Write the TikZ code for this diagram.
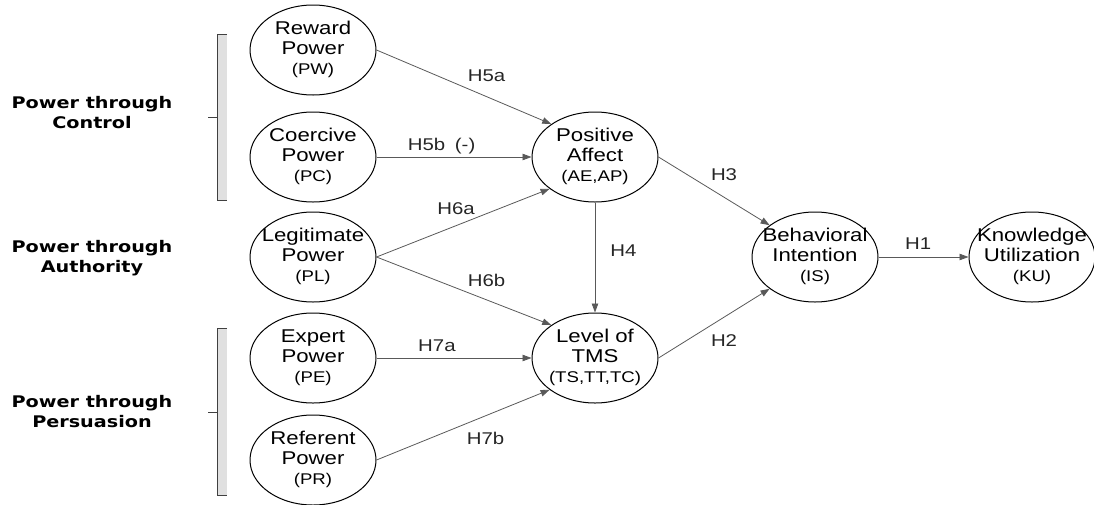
\documentclass[tikz,border=0pt]{standalone}
\usepackage{fontspec}
\setmainfont{Liberation Sans}[FakeStretch=1.2]
\newfontfamily\grpfont{DejaVu Sans}[FakeStretch=1.2]
\usetikzlibrary{shapes.geometric,arrows.meta}

% three lines of an ellipse: name, name, abbreviation
\newcommand\ctext[3]{\makebox[0pt]{\begin{tabular}{@{}c@{}}#1\\#2\\{\fontsize{15.5}{20}\selectfont(#3)}\end{tabular}}}

\begin{document}
\begin{tikzpicture}[x=1pt,y=-1pt,
  construct/.style={ellipse,draw,line width=1pt,minimum width=126pt,minimum height=90pt,inner sep=0pt,font=\fontsize{18.5}{20}\selectfont},
  group/.style={align=center,font=\grpfont\bfseries\fontsize{16}{20}\selectfont},
  hyp/.style={black!65,line width=0.8pt,-{Triangle[length=9pt,width=6.5pt]}},
  hlabel/.style={font=\fontsize{17}{20}\selectfont,text=black!85,inner sep=1pt},
  bracketline/.style={draw=black!75,line width=0.8pt}]
  \useasboundingbox (0,0) rectangle (1094,504);

  % groups of power
  \node[group] (ctrl) at (92,113) {Power through\\Control};
  \node[group] (auth) at (92,258) {Power through\\Authority};
  \node[group] (pers) at (92,412) {Power through\\Persuasion};

  \fill[black!12] (217,34) rectangle (227,200);
  \draw[bracketline] (227,34) -- (217,34) -- (217,200) -- (227,200) (208,117) -- (217,117);
  \fill[black!12] (217,328) rectangle (227,495);
  \draw[bracketline] (227,328) -- (217,328) -- (217,495) -- (227,495) (208,412) -- (217,412);

  % constructs
  \node[construct] (rew) at (313,50) {\ctext{Reward}{Power}{PW}};
  \node[construct] (coe) at (313,157) {\ctext{Coercive}{Power}{PC}};
  \node[construct] (leg) at (313,257) {\ctext{Legitimate}{Power}{PL}};
  \node[construct] (exp) at (313,358) {\ctext{Expert}{Power}{PE}};
  \node[construct] (ref) at (313,460) {\ctext{Referent}{Power}{PR}};
  \node[construct] (pa) at (595,157) {\ctext{Positive}{Affect}{AE,AP}};
  \node[construct] (tms) at (595,358) {\ctext{Level of}{TMS}{TS,TT,TC}};
  \node[construct] (bi) at (815,257) {\ctext{Behavioral}{Intention}{IS}};
  \node[construct] (ku) at (1032,257) {\ctext{Knowledge}{Utilization}{KU}};

  % hypotheses
  \path[hyp]
    (rew.east) edge node[hlabel,pos=0.63,above=14pt] (h5a) {H5a} (pa.143)
    (coe) edge node[hlabel,pos=0.42,above=2pt] (h5b) {H5b\hspace{4pt} (-)} (pa)
    (leg.east) edge node[hlabel,pos=0.46,above=10pt] (h6a) {H6a} (pa.215)
    (leg.east) edge node[hlabel,pos=0.63,above=11.5pt] (h6b) {H6b} (tms.143)
    (exp) edge node[hlabel,pos=0.39,above=5pt] (h7a) {H7a} (tms)
    (ref.east) edge node[hlabel,pos=0.63,below=14.5pt] (h7b) {H7b} (tms.215)
    (pa) edge node[hlabel,pos=0.44,right=14pt] (h4) {H4} (tms)
    (pa.east) edge node[hlabel,pos=0.59,above=15pt] (h3) {H3} (bi.145)
    (tms.east) edge node[hlabel,pos=0.59,below=16pt] (h2) {H2} (bi.215)
    (bi) edge node[hlabel,pos=0.44,above=6pt] (h1) {H1} (ku);
\end{tikzpicture}
\end{document}
